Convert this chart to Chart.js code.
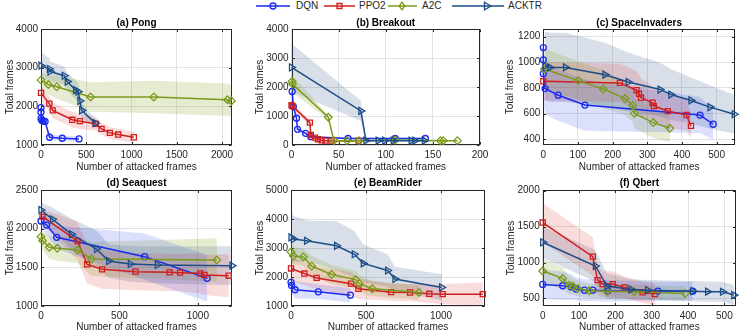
<!DOCTYPE html>
<html><head><meta charset="utf-8">
<script src="https://cdn.jsdelivr.net/npm/chart.js@4.4.1/dist/chart.umd.min.js"></script>
<style>
html,body{margin:0;padding:0;background:#fff;}
body{width:747px;height:336px;overflow:hidden;position:relative;font-family:"Liberation Sans",Arial,Helvetica,sans-serif;}
canvas{position:absolute;}
#legend{position:absolute;left:0;top:0;width:747px;height:14px;}
.lgt{position:absolute;top:0;font-size:10px;line-height:12px;color:#262626;white-space:nowrap;}
</style></head><body>
<svg id="legend" width="747" height="14"></svg>
<script>
const FONT = '"Liberation Sans", Arial, Helvetica, sans-serif';
const seriesNames = ['DQN', 'PPO2', 'A2C', 'ACKTR'];
const xLabel = 'Number of attacked frames';
const yLabel = 'Total frames';

// each point: [attacked frames, total frames, spread]
// (a) Pong
const pongXTicks = [0, 500, 1000, 1500, 2000];
const pongYTicks = [1000, 2000, 3000, 4000];
const pongDQN = [[0,1965,70],[0,1850,80],[0,1680,90],[10,1635,90],[25,1620,90],[45,1610,90],[95,1200,70],[235,1174,65],[420,1157,65]];
const pongPPO2 = [[0,2348,180],[92,2070,200],[129,1896,200],[346,1652,200],[430,1617,200],[603,1548,180],[669,1417,160],[761,1313,150],[853,1270,150],[1026,1200,140]];
const pongA2C = [[0,2678,200],[81,2565,250],[173,2504,300],[548,2243,380],[1246,2243,420],[2060,2170,420],[2103,2140,420]];
const pongACKTR = [[0,3052,350],[92,2965,280],[100,2900,260],[257,2791,230],[290,2640,230],[382,2417,250],[410,2380,250],[430,2139,260],[449,1896,200],[600,1565,100]];

// (b) Breakout
const breakoutXTicks = [0, 50, 100, 150, 200];
const breakoutYTicks = [0, 1000, 2000, 3000, 4000];
const breakoutDQN = [[0.7,1844,60],[2,1326,80],[5.3,922,70],[6.4,542,60],[15,403,50],[20.5,288,40],[60,225,25],[110,225,25],[142,225,25]];
const breakoutPPO2 = [[0,1372,130],[1,1340,130],[19.5,772,80],[20.5,346,50],[25,254,40],[28,200,30],[32,160,20],[36,150,20],[42.5,150,20],[71,150,20]];
const breakoutA2C = [[0.5,2190,300],[1,2100,300],[39,957,70],[45,150,20],[59,150,20],[71.5,150,20],[110,170,20],[158,150,20],[161,150,20],[176,150,20]];
const breakoutACKTR = [[0,2674,830],[73.6,1176,350],[79,150,20],[92,150,20],[99,150,20],[108,150,20],[127,150,20],[131,150,20],[141,150,20]];

// (c) SpaceInvaders
const spaceXTicks = [0, 100, 200, 300, 400, 500];
const spaceYTicks = [400, 600, 800, 1000, 1200];
const spaceDQN = [[0,1115,200],[0,1019,200],[0,911,200],[5,795,200],[43,743,200],[120,666,200],[452,588,140],[490,516,120]];
const spacePPO2 = [[0,852,150],[221,839,150],[269,782,150],[276,754,150],[282,723,150],[315,684,130],[319,658,130],[359,619,130],[413,588,120],[426,503,100]];
const spaceA2C = [[3,947,160],[101,857,150],[173,792,150],[236,717,130],[258,663,130],[263,601,120],[317,529,120],[365,485,110]];
const spaceACKTR = [[5,973,270],[19,960,270],[64,960,270],[178,903,250],[245,846,230],[337,787,210],[368,748,200],[426,702,180],[481,650,170],[551,594,150]];

// (d) Seaquest
const seaXTicks = [0, 500, 1000];
const seaYTicks = [1000, 1500, 2000, 2500];
const seaDQN = [[0,2099,100],[36,2047,120],[100,1888,150],[661,1638,300],[1059,1358,300]];
const seaPPO2 = [[10,2155,100],[233,1840,250],[294,1539,250],[390,1474,250],[602,1444,240],[820,1435,240],[887,1431,240],[1015,1422,260],[1042,1401,260],[1197,1392,280]];
const seaA2C = [[0,1897,100],[10,1845,120],[53,1759,150],[104,1746,160],[233,1724,170],[322,1608,220],[1121,1595,280]];
const seaACKTR = [[0,2241,100],[74,2121,150],[195,1927,200],[354,1737,240],[432,1582,220],[570,1543,230],[742,1530,240],[1218,1522,250]];

// (e) BeamRider
const beamXTicks = [0, 500, 1000];
const beamYTicks = [1000, 2000, 3000, 4000, 5000];
const beamDQN = [[0,1816,300],[4,1711,300],[27,1560,300],[182,1490,250],[396,1373,250]];
const beamPPO2 = [[0,2294,400],[89,2119,400],[171,1968,400],[400,1770,400],[449,1595,350],[667,1478,300],[793,1466,300],[922,1420,320],[1011,1408,350],[1278,1408,400]];
const beamA2C = [[0,2866,350],[16,2726,300],[82,2691,300],[138,2376,350],[271,2085,330],[431,1910,300],[456,1770,300],[542,1595,250],[853,1466,250]];
const beamACKTR = [[0,3367,980],[16,3309,800],[104,3251,700],[304,3076,850],[422,2784,800],[482,2469,650],[644,2224,560],[693,1933,420],[1004,1641,450]];

// (f) Qbert
const qbertXTicks = [0, 100, 200, 300, 400, 500];
const qbertYTicks = [500, 1000, 1500, 2000];
const qbertDQN = [[0,696,200],[55,677,200],[78,660,180],[92,630,160],[115,616,150],[138,616,150],[179,607,150],[317,603,130],[413,602,130]];
const qbertPPO2 = [[0,1557,270],[138,1082,270],[151,756,200],[165,700,180],[193,700,180],[225,654,150],[275,584,150],[309,561,150]];
const qbertA2C = [[0,882,170],[55,779,150],[73,686,130],[83,670,120],[96,640,110],[128,607,100],[177,600,100],[252,593,100],[392,570,100]];
const qbertACKTR = [[0,1282,220],[145,952,220],[177,672,180],[243,626,140],[289,616,140],[413,602,140],[454,595,140],[495,593,140],[526,547,140]];

const STYLE = {
  DQN:   {color:'#1a2af0', band:'rgba(50,70,240,0.17)',  shape:'circle',   r:3,   rot:0},
  PPO2:  {color:'#d01f1f', band:'rgba(220,50,50,0.17)',  shape:'rect',     r:3.6, rot:0},
  A2C:   {color:'#7c9a1b', band:'rgba(130,160,30,0.20)', shape:'rectRot',  r:3.8, rot:0},
  ACKTR: {color:'#1c4d88', band:'rgba(40,80,130,0.18)',  shape:'triangle', r:4,   rot:90}
};

const games = [
  {title:'(a) Pong', series:{DQN:pongDQN, PPO2:pongPPO2, A2C:pongA2C, ACKTR:pongACKTR}, xTicks:pongXTicks, yTicks:pongYTicks, xr:[0,2110], yr:[1000,4000],
   L:{left:0, top:17, w:244, h:158, yw:41, xh:30, pr:12, tp:0}},
  {title:'(b) Breakout', series:{DQN:breakoutDQN, PPO2:breakoutPPO2, A2C:breakoutA2C, ACKTR:breakoutACKTR}, xTicks:breakoutXTicks, yTicks:breakoutYTicks, xr:[0,200], yr:[0,4000],
   L:{left:250, top:17, w:243, h:158, yw:41.5, xh:30, pr:13, tp:0}},
  {title:'(c) SpaceInvaders', series:{DQN:spaceDQN, PPO2:spacePPO2, A2C:spaceA2C, ACKTR:spaceACKTR}, xTicks:spaceXTicks, yTicks:spaceYTicks, xr:[0,553], yr:[354,1260],
   L:{left:500, top:17, w:247, h:158, yw:43.3, xh:30, pr:12, tp:0}},
  {title:'(d) Seaquest', series:{DQN:seaDQN, PPO2:seaPPO2, A2C:seaA2C, ACKTR:seaACKTR}, xTicks:seaXTicks, yTicks:seaYTicks, xr:[0,1218], yr:[1000,2500],
   L:{left:0, top:177, w:244, h:158, yw:41, xh:29, pr:12, tp:1}},
  {title:'(e) BeamRider', series:{DQN:beamDQN, PPO2:beamPPO2, A2C:beamA2C, ACKTR:beamACKTR}, xTicks:beamXTicks, yTicks:beamYTicks, xr:[0,1293], yr:[1000,5000],
   L:{left:250, top:177, w:247, h:158, yw:41, xh:29, pr:12, tp:1}},
  {title:'(f) Qbert', series:{DQN:qbertDQN, PPO2:qbertPPO2, A2C:qbertA2C, ACKTR:qbertACKTR}, xTicks:qbertXTicks, yTicks:qbertYTicks, xr:[0,532], yr:[395,2010],
   L:{left:501, top:177, w:246, h:158, yw:41.7, xh:29, pr:11, tp:1}}
];

const boxPlugin = {
  id: 'box',
  beforeDatasetsDraw(chart) {
    const {ctx, chartArea: a} = chart;
    ctx.save();
    ctx.strokeStyle = '#262626';
    ctx.lineWidth = 1;
    const l = Math.round(a.left) + 0.5, t = Math.round(a.top) + 0.5;
    const r = Math.round(a.right) - 0.5, b = Math.round(a.bottom) - 0.5;
    ctx.strokeRect(l, t, r - l, b - t);
    const tl = 2.5;
    ctx.beginPath();
    chart.scales.x.ticks.forEach(tk => {
      const px = Math.round(chart.scales.x.getPixelForValue(tk.value)) + 0.5;
      ctx.moveTo(px, b); ctx.lineTo(px, b - tl);
      ctx.moveTo(px, t); ctx.lineTo(px, t + tl);
    });
    chart.scales.y.ticks.forEach(tk => {
      const py = Math.round(chart.scales.y.getPixelForValue(tk.value)) + 0.5;
      ctx.moveTo(l, py); ctx.lineTo(l + tl, py);
      ctx.moveTo(r, py); ctx.lineTo(r - tl, py);
    });
    ctx.stroke();
    ctx.restore();
  }
};

function buildChart(g) {
  const L = g.L;
  const cv = document.createElement('canvas');
  cv.width = L.w; cv.height = L.h;
  cv.style.left = L.left + 'px'; cv.style.top = L.top + 'px';
  cv.style.width = L.w + 'px'; cv.style.height = L.h + 'px';
  document.body.appendChild(cv);
  const datasets = [];
  ['ACKTR', 'A2C', 'PPO2', 'DQN'].forEach(name => {
    const st = STYLE[name];
    datasets.push({
      label: name,
      data: g.series[name].map(p => ({x: p[0], y: p[1]})),
      borderColor: st.color, backgroundColor: 'rgba(0,0,0,0)', borderWidth: 1.5,
      pointStyle: st.shape, pointRadius: st.r, pointRotation: st.rot,
      pointBorderColor: st.color, pointBackgroundColor: 'rgba(0,0,0,0)', pointBorderWidth: 1.3,
      tension: 0, fill: false, clip: false
    });
  });
  seriesNames.forEach(name => {
    const st = STYLE[name];
    const pts = g.series[name];
    const up = pts.map(p => ({x: p[0], y: p[1] + p[2]}));
    const lo = pts.map(p => ({x: p[0], y: p[1] - p[2]})).reverse();
    datasets.push({
      label: name + ' band', data: up.concat(lo),
      borderColor: 'rgba(0,0,0,0)', borderWidth: 0, pointRadius: 0,
      backgroundColor: st.band, fill: 'shape', tension: 0
    });
  });
  const tickFont = {family: FONT, size: 10};
  new Chart(cv, {
    type: 'line',
    data: {datasets},
    plugins: [boxPlugin],
    options: {
      responsive: false, animation: false, devicePixelRatio: 1, events: [],
      layout: {padding: {left: 0, top: 0, right: L.pr, bottom: 0}},
      plugins: {
        legend: {display: false}, tooltip: {enabled: false},
        title: {display: true, text: g.title, fullSize: false, color: '#000',
                font: {family: FONT, size: 10, weight: 'bold'}, padding: {top: 0, bottom: L.tp}}
      },
      scales: {
        x: {
          type: 'linear', min: g.xr[0], max: g.xr[1],
          afterBuildTicks: s => { s.ticks = g.xTicks.map(v => ({value: v})); },
          afterFit: s => { s.height = L.xh; },
          grid: {color: '#e2e2e2', lineWidth: 1, drawTicks: false},
          border: {display: false},
          ticks: {padding: 4, color: '#262626', font: tickFont, maxRotation: 0, autoSkip: false, callback: v => String(v)},
          title: {display: true, text: xLabel, color: '#262626', font: tickFont, padding: {top: 0, bottom: 2}}
        },
        y: {
          type: 'linear', min: g.yr[0], max: g.yr[1],
          afterBuildTicks: s => { s.ticks = g.yTicks.map(v => ({value: v})); },
          afterFit: s => { s.width = L.yw; },
          grid: {color: '#e2e2e2', lineWidth: 1, drawTicks: false},
          border: {display: false},
          ticks: {padding: 3, color: '#262626', font: tickFont, autoSkip: false, callback: v => String(v)},
          title: {display: true, text: yLabel, color: '#262626', font: tickFont, padding: {top: 4, bottom: 0}}
        }
      }
    }
  });
}
games.forEach(buildChart);

// legend
const LEG = {DQN: {x1:256, x2:290, mx:273, tx:296}, PPO2: {x1:324, x2:355, mx:339.5, tx:359},
             A2C: {x1:388, x2:417, mx:402, tx:422}, ACKTR: {x1:452, x2:504, mx:487, tx:508}};
const svg = document.getElementById('legend');
const NS = 'http://www.w3.org/2000/svg';
const ly = 6;
seriesNames.forEach(name => {
  const st = STYLE[name], p = LEG[name];
  const ln = document.createElementNS(NS, 'line');
  ln.setAttribute('x1', p.x1); ln.setAttribute('x2', p.x2);
  ln.setAttribute('y1', ly); ln.setAttribute('y2', ly);
  ln.setAttribute('stroke', st.color); ln.setAttribute('stroke-width', 1.5);
  svg.appendChild(ln);
  let m;
  if (name === 'DQN') {
    m = document.createElementNS(NS, 'circle');
    m.setAttribute('cx', p.mx); m.setAttribute('cy', ly); m.setAttribute('r', 3);
  } else {
    m = document.createElementNS(NS, 'polygon');
    let pts;
    const x = p.mx, y = ly;
    if (name === 'PPO2') pts = [[x-2.5,y-2.5],[x+2.5,y-2.5],[x+2.5,y+2.5],[x-2.5,y+2.5]];
    else if (name === 'A2C') pts = [[x,y-3.8],[x+2.8,y],[x,y+3.8],[x-2.8,y]];
    else pts = [[x-2.5,y-3.8],[x+4,y],[x-2.5,y+3.8]];
    m.setAttribute('points', pts.map(q => q.join(',')).join(' '));
  }
  m.setAttribute('fill', 'none'); m.setAttribute('stroke', st.color); m.setAttribute('stroke-width', 1.3);
  svg.appendChild(m);
  const t = document.createElement('div');
  t.className = 'lgt'; t.textContent = name; t.style.left = p.tx + 'px';
  document.body.appendChild(t);
});
</script>
</body></html>
